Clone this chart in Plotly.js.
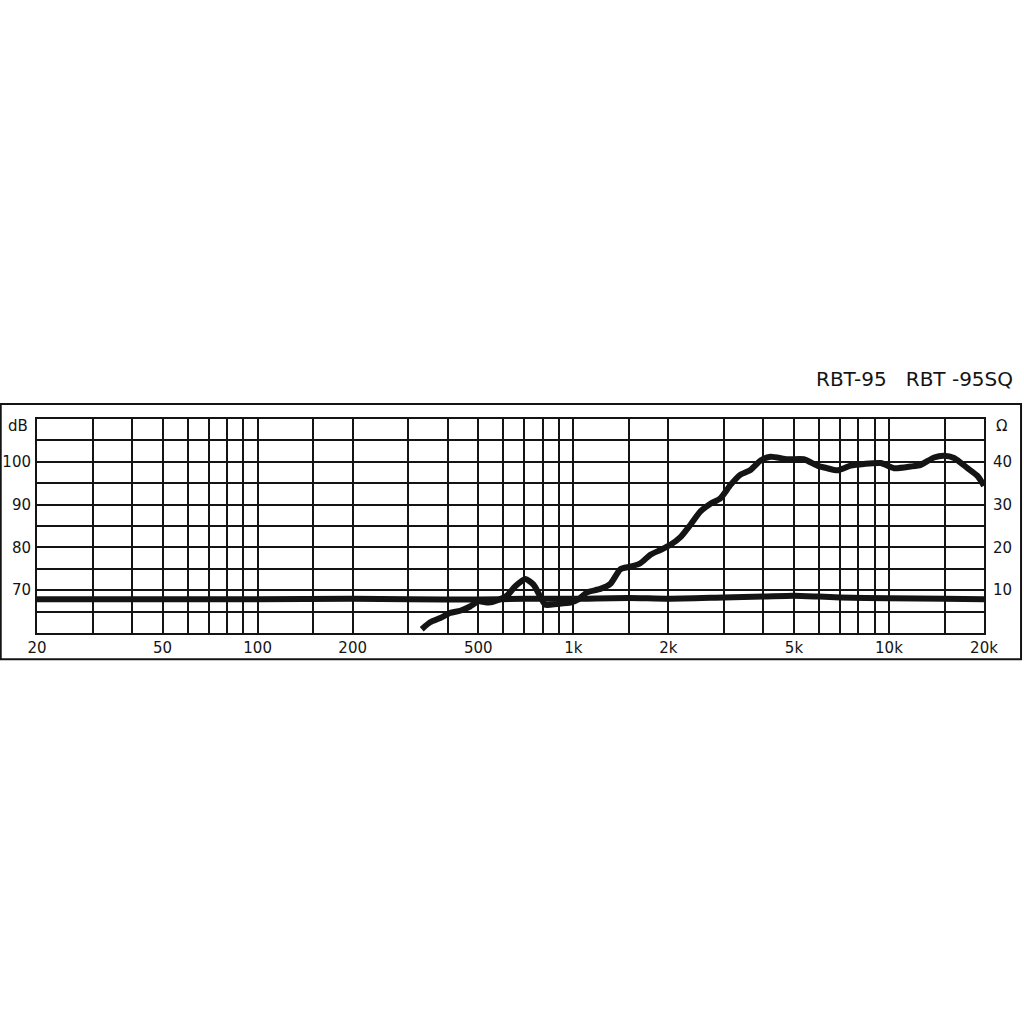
<!DOCTYPE html>
<html>
<head>
<meta charset="utf-8">
<script src="https://cdn.plot.ly/plotly-3.0.1.min.js"></script>
<style>
  html, body { margin: 0; padding: 0; background: #ffffff; }
  #chart { width: 1024px; height: 1024px; }
</style>
</head>
<body>
<div id="chart"></div>
<script>
// Frequency response (dB)
const freqHz = [331, 352, 379, 407, 438, 471, 501, 539, 573, 616, 655, 705, 748, 786, 815, 888, 979, 1040, 1105, 1218, 1311, 1410, 1516, 1631, 1755, 1888, 2031, 2185, 2350, 2528, 2720, 2926, 3148, 3386, 3643, 3920, 4217, 4762, 5376, 5928, 6377, 6860, 7562, 8334, 9415, 10372, 11720, 12608, 13890, 14940, 16078, 17731, 19072, 20000];
const splDb = [60.9, 62.5, 63.5, 64.7, 65.2, 66.2, 67.4, 67.1, 67.6, 68.7, 70.9, 72.6, 71.3, 68.5, 66.6, 66.8, 67.1, 67.9, 69.5, 70.3, 71.5, 74.9, 75.5, 76.3, 78.3, 79.4, 80.6, 82.4, 85.3, 88.4, 90.2, 91.5, 94.6, 97.0, 98.1, 100.3, 101.2, 100.6, 100.6, 99.1, 98.5, 98.0, 99.1, 99.5, 99.7, 98.5, 98.9, 99.3, 101.0, 101.4, 100.9, 98.5, 96.7, 94.4];

// Impedance (ohm)
const impFreqHz = [20, 50, 100, 200, 300, 500, 700, 1000, 1500, 2000, 3000, 4000, 5000, 6000, 7000, 10000, 15000, 20000];
const impOhm = [7.9, 7.9, 7.9, 8.0, 7.9, 7.8, 8.0, 8.0, 8.2, 8.0, 8.3, 8.5, 8.7, 8.5, 8.3, 8.1, 8.0, 7.9];

// Grid and tick labels
const gridFreqs = [20, 30, 40, 50, 60, 70, 80, 90, 100, 150, 200, 300, 400, 500, 600, 700, 800, 900, 1000, 1500, 2000, 3000, 4000, 5000, 6000, 7000, 8000, 9000, 10000, 15000, 20000];
const freqLabels = {20: '20', 50: '50', 100: '100', 200: '200', 500: '500', 1000: '1k', 2000: '2k', 5000: '5k', 10000: '10k', 20000: '20k'};
const dbGrid = [60, 65, 70, 75, 80, 85, 90, 95, 100, 105, 110];
const dbLabels = {70: '70', 80: '80', 90: '90', 100: '100'};
const ohmTicks = [10, 20, 30, 40];

const ink = '#141414';
const tickFont = {family: 'DejaVu Sans, Verdana, sans-serif', size: 15, color: ink};

let traces = [
    {
        x: impFreqHz,
        y: impOhm,
        yaxis: 'y2',
        type: 'scatter',
        mode: 'lines',
        line: {color: ink, width: 6, shape: 'spline', smoothing: 0.6},
        hoverinfo: 'skip'
    },
    {
        x: freqHz,
        y: splDb,
        type: 'scatter',
        mode: 'lines',
        line: {color: ink, width: 6, shape: 'spline', smoothing: 0.6},
        hoverinfo: 'skip'
    }
];

let layout = {
    width: 1024,
    height: 1024,
    margin: {l: 37, r: 40, t: 419, b: 391},
    paper_bgcolor: '#ffffff',
    plot_bgcolor: '#ffffff',
    showlegend: false,
    xaxis: {
        type: 'log',
        range: [Math.log10(20), Math.log10(20000)],
        tickmode: 'array',
        tickvals: gridFreqs,
        ticktext: gridFreqs.map(f => freqLabels[f] || ''),
        ticks: '',
        showgrid: true,
        gridcolor: ink,
        gridwidth: 2,
        showline: true,
        linecolor: ink,
        linewidth: 2,
        mirror: true,
        zeroline: false,
        tickfont: tickFont,
        ticklabelstandoff: 0
    },
    yaxis: {
        range: [60, 110],
        tickmode: 'array',
        tickvals: dbGrid,
        ticktext: dbGrid.map(v => dbLabels[v] || ''),
        ticks: '',
        showgrid: true,
        gridcolor: ink,
        gridwidth: 2,
        showline: true,
        linecolor: ink,
        linewidth: 2,
        mirror: true,
        zeroline: false,
        tickfont: tickFont,
        ticklabelstandoff: 1
    },
    yaxis2: {
        overlaying: 'y',
        side: 'right',
        range: [0, 50],
        tickmode: 'array',
        tickvals: ohmTicks,
        ticks: '',
        showgrid: false,
        zeroline: false,
        tickfont: tickFont,
        ticklabelstandoff: 8
    },
    shapes: [{
        type: 'rect',
        xref: 'paper', yref: 'paper',
        x0: -0.0383, x1: 1.0391, y0: -0.1224, y1: 1.070,
        line: {color: ink, width: 2}
    }],
    annotations: [
        {
            text: 'dB', xref: 'paper', yref: 'paper',
            x: -0.007, y: 0.968, xanchor: 'right', yanchor: 'middle',
            showarrow: false, font: tickFont
        },
        {
            text: '\u03A9', xref: 'paper', yref: 'paper',
            x: 1.011, y: 0.968, xanchor: 'left', yanchor: 'middle',
            showarrow: false, font: tickFont
        },
        {
            text: 'RBT-95\u00A0\u00A0\u00A0RBT\u00A0-95SQ', xref: 'paper', yref: 'paper',
            x: 1.0327, y: 1.188, xanchor: 'right', yanchor: 'middle',
            showarrow: false,
            font: {family: 'DejaVu Sans, Verdana, sans-serif', size: 20, color: ink}
        }
    ]
};

Plotly.newPlot('chart', traces, layout, {displayModeBar: false, staticPlot: true});
</script>
</body>
</html>
